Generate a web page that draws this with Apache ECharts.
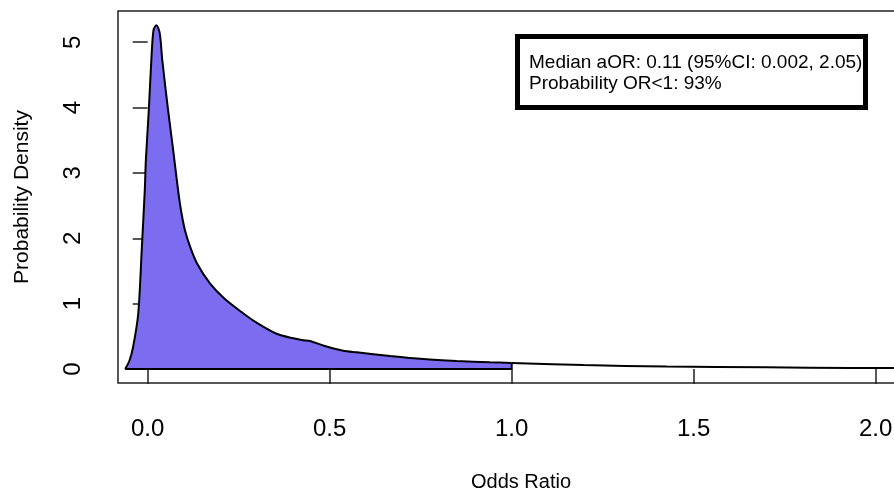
<!DOCTYPE html>
<html>
<head>
<meta charset="utf-8">
<script src="https://cdn.jsdelivr.net/npm/echarts@6/dist/echarts.min.js"></script>
<style>
  html, body { margin: 0; padding: 0; background: #fff; }
  #chart { width: 894px; height: 489px; }
</style>
</head>
<body>
<div id="chart"></div>
<script>
// posterior density of the adjusted odds ratio
const oddsRatio = [-0.062, -0.05, -0.04, -0.026, -0.016, -0.008, -0.005, 0.003, 0.010, 0.016, 0.024,
  0.033, 0.040, 0.056, 0.070, 0.080, 0.086, 0.093, 0.1025, 0.116, 0.136, 0.171, 0.212, 0.263,
  0.299, 0.354, 0.40, 0.427, 0.446, 0.482, 0.537, 0.574, 0.666, 0.757, 0.849, 0.940, 1.0,
  1.197, 1.426, 1.70, 1.93, 2.05];
const density = [0, 0.13, 0.34, 0.85, 1.87, 2.74, 3.20, 3.96, 4.73, 5.19, 5.26,
  5.14, 4.73, 3.96, 3.35, 2.89, 2.63, 2.38, 2.12, 1.88, 1.61, 1.31, 1.07, 0.85,
  0.71, 0.54, 0.47, 0.44, 0.43, 0.36, 0.28, 0.256, 0.20, 0.153, 0.123, 0.103, 0.092,
  0.061, 0.037, 0.026, 0.015, 0.015];
const shadeUpTo = 1.0;
const xTicks = [0, 0.5, 1, 1.5, 2];
const yTicks = [0, 1, 2, 3, 4, 5];
const noteLines = ['Median aOR: 0.11 (95%CI: 0.002, 2.05)', 'Probability OR<1: 93%'];

const shaded = [];
const tail = [];
oddsRatio.forEach((x, i) => {
  if (x <= shadeUpTo) shaded.push([x, density[i]]);
  if (x >= shadeUpTo) tail.push([x, density[i]]);
});
// bottom edge + right edge of the shaded polygon
const edge = [[oddsRatio[0], 0], [shadeUpTo, 0], [shadeUpTo, density[oddsRatio.indexOf(shadeUpTo)]]];

const font = 'Liberation Sans, Arial, Helvetica, sans-serif';
const ink = '#222';

const chart = echarts.init(document.getElementById('chart'));
chart.setOption({
  animation: false,
  textStyle: { fontFamily: font },
  grid: {
    left: 118, right: -30, top: 11, bottom: 106,
    show: true, borderColor: ink, borderWidth: 1.5,
    outerBoundsMode: 'none'
  },
  xAxis: {
    type: 'value',
    min: -0.0816, max: 2.1327,
    axisLine: { show: false },
    splitLine: { show: false },
    axisTick: { customValues: xTicks, length: 15, lineStyle: { color: ink, width: 1.5 } },
    axisLabel: {
      customValues: xTicks, formatter: v => v.toFixed(1),
      fontSize: 24, color: '#000', margin: 34, fontFamily: font
    },
    name: 'Odds Ratio', nameLocation: 'middle', nameGap: 89,
    nameTextStyle: { fontSize: 20, color: '#000', fontFamily: font }
  },
  yAxis: {
    type: 'value',
    min: -0.214, max: 5.478,
    axisLine: { show: false },
    splitLine: { show: false },
    axisTick: { customValues: yTicks, length: 15, lineStyle: { color: ink, width: 1.5 } },
    axisLabel: {
      customValues: yTicks, rotate: 90,
      fontSize: 24, color: '#000', margin: 33, fontFamily: font
    },
    name: 'Probability Density', nameLocation: 'middle', nameGap: 85,
    nameTextStyle: { fontSize: 21, color: '#000', fontFamily: font }
  },
  series: [
    {
      name: 'shaded',
      type: 'line',
      data: shaded,
      smooth: 0.3,
      symbol: 'none',
      lineStyle: { color: '#000', width: 2 },
      areaStyle: { color: '#7b6cf0', opacity: 1 },
      z: 2
    },
    {
      name: 'edge',
      type: 'line',
      data: edge,
      symbol: 'none',
      lineStyle: { color: '#000', width: 2 },
      z: 3
    },
    {
      name: 'tail',
      type: 'line',
      data: tail,
      smooth: 0.3,
      symbol: 'none',
      lineStyle: { color: '#000', width: 2 },
      z: 3
    }
  ],
  graphic: [
    {
      type: 'rect',
      shape: { x: 517.5, y: 36.5, width: 348, height: 71 },
      style: { fill: '#fff', stroke: '#000', lineWidth: 5 },
      z: 10
    },
    {
      type: 'text',
      left: 529, top: 52,
      style: {
        text: noteLines.join('\n'), font: '19px ' + font,
        fill: '#000', lineHeight: 21
      },
      z: 11
    }
  ]
});
</script>
</body>
</html>
